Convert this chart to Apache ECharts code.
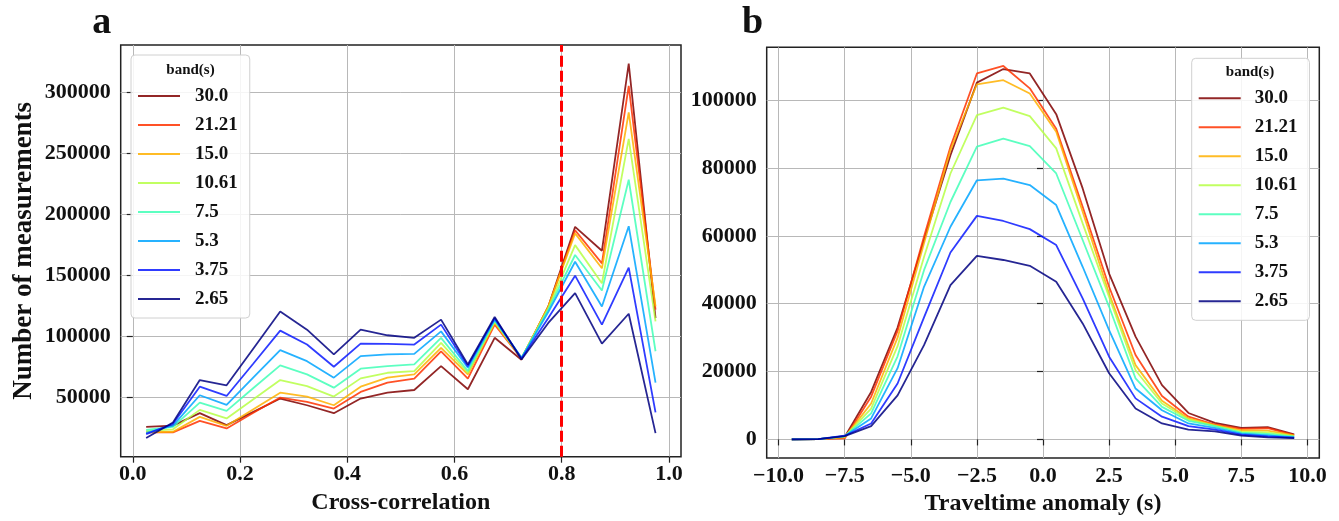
<!DOCTYPE html>
<html><head><meta charset="utf-8">
<script src="https://cdn.jsdelivr.net/npm/echarts@6/dist/echarts.min.js"></script>
<style>html,body{margin:0;padding:0;background:#fff}#c{width:1339px;height:521px}</style>
</head><body><div id="c"></div>
<script>
// ---------- DATA ----------
const bands = ['30.0', '21.21', '15.0', '10.61', '7.5', '5.3', '3.75', '2.65'];
const bandColors = ['#800000', '#ff3200', '#ffb000', '#b6ff45', '#41ffb6', '#00a4ff', '#0a1aff', '#000080'];

// panel a: cross-correlation bins
const ccBins = [0.025, 0.075, 0.125, 0.175, 0.225, 0.275, 0.325, 0.375, 0.425, 0.475,
                0.525, 0.575, 0.625, 0.675, 0.725, 0.775, 0.825, 0.875, 0.925, 0.975];
const cc_30_0  = [26000, 27000, 37200, 27400, 38300, 49200, 43700, 37200, 49200, 54100, 56200, 75700, 56800, 98900, 81000, 124600, 189700, 170200, 323300, 115100];
const cc_21_21 = [21500, 21500, 30900, 24700, 37500, 50000, 46400, 41000, 54600, 62200, 65500, 87900, 65500, 109700, 82000, 124000, 187000, 159900, 305100, 121900];
const cc_15_0  = [21500, 22000, 34200, 26900, 40500, 54000, 50800, 43700, 58900, 66300, 69000, 90700, 69000, 111100, 82000, 124600, 184400, 155800, 283400, 124600];
const cc_10_61 = [22500, 24000, 39900, 32900, 48600, 64300, 59400, 50800, 65700, 70300, 71700, 94800, 70300, 112000, 82500, 123000, 174800, 143600, 261700, 112400];
const cc_7_5   = [23500, 26000, 45900, 39100, 57800, 76300, 69000, 58100, 73600, 75700, 77100, 98900, 71700, 113000, 82500, 122000, 166700, 137600, 228300, 87900];
const cc_5_3   = [21000, 27000, 51900, 44000, 66500, 88800, 79800, 66300, 83900, 85300, 85800, 104200, 74400, 113800, 82500, 120000, 161200, 124600, 190300, 62200];
const cc_3_75  = [20000, 28500, 58900, 51300, 77900, 104800, 93400, 75200, 94200, 94000, 93400, 109700, 75700, 115000, 82000, 115100, 149800, 109700, 156300, 37800];
const cc_2_65  = [16900, 29600, 64300, 60000, 90100, 120500, 105600, 85300, 105600, 101000, 98900, 113800, 77100, 116000, 81200, 111100, 135500, 94200, 118600, 20900];
const ccThreshold = 0.8;

// panel b: traveltime anomaly bins
const ttBins = [-9.5, -8.5, -7.5, -6.5, -5.5, -4.5, -3.5, -2.5, -1.5, -0.5,
                0.5, 1.5, 2.5, 3.5, 4.5, 5.5, 6.5, 7.5, 8.5, 9.5];
const tt_30_0  = [0, 100, 700, 14000, 33000, 58800, 83800, 105200, 109200, 107900, 95900, 74000, 48900, 30300, 16000, 7800, 4900, 3400, 3600, 1500];
const tt_21_21 = [0, 100, 300, 12600, 32000, 59800, 86300, 107900, 110100, 103500, 91600, 68600, 45000, 24900, 12800, 6700, 4400, 3100, 3300, 1300];
const tt_15_0  = [0, 100, 600, 10600, 30000, 57800, 85300, 104700, 105900, 102000, 90700, 67100, 43000, 21900, 11400, 6200, 4200, 2700, 2600, 1200];
const tt_10_61 = [0, 100, 800, 9100, 27500, 53800, 78400, 95600, 97800, 95300, 85800, 63700, 42000, 20400, 10600, 5900, 4000, 2300, 2100, 1000];
const tt_7_5   = [0, 100, 900, 7700, 24500, 49900, 70000, 86300, 88700, 86500, 78400, 58800, 39100, 18000, 9600, 5500, 3900, 2000, 1600, 800];
const tt_5_3   = [0, 100, 1000, 6200, 21000, 45000, 62700, 76400, 76900, 75000, 69100, 50900, 32200, 15000, 8600, 4700, 3400, 1700, 1200, 600];
const tt_3_75  = [0, 100, 1100, 4700, 16500, 36000, 55100, 65900, 64400, 62000, 57300, 41600, 24400, 12100, 6700, 3900, 2900, 1400, 900, 500];
const tt_2_65  = [0, 100, 1000, 3900, 13000, 27800, 45500, 54100, 52900, 51200, 46500, 34200, 19500, 9100, 4700, 2900, 2400, 1100, 600, 400];

// tick labels
const ccTicks = [0.0, 0.2, 0.4, 0.6, 0.8, 1.0];
const ccCountTicks = [50000, 100000, 150000, 200000, 250000, 300000];
const ttTicks = [-10.0, -7.5, -5.0, -2.5, 0.0, 2.5, 5.0, 7.5, 10.0];
const ttCountTicks = [0, 20000, 40000, 60000, 80000, 100000];

// ---------- BUILD ----------
const ccSeries = [cc_30_0, cc_21_21, cc_15_0, cc_10_61, cc_7_5, cc_5_3, cc_3_75, cc_2_65];
const ttSeries = [tt_30_0, tt_21_21, tt_15_0, tt_10_61, tt_7_5, tt_5_3, tt_3_75, tt_2_65];

function padded(arrs) { // matplotlib-like 5% margins
  const all = [].concat(...arrs);
  const lo = Math.min(...all), hi = Math.max(...all), r = hi - lo;
  return [lo - 0.05 * r, hi + 0.05 * r];
}
const ccX = padded([ccBins]), ccY = padded(ccSeries);
const ttX = padded([ttBins]), ttY = padded(ttSeries);

const FONT = 'Liberation Serif';
const INK = '#111';
const fmtMinus = v => (v < 0 ? '\u2212' + Math.abs(v).toFixed(1) : v.toFixed(1));

function axisCommon(ticks, fmt, isX) {
  return {
    axisLine: { show: false },
    axisTick: { show: true, inside: false, length: 6, customValues: ticks, lineStyle: { color: '#222', width: 1.2 } },
    axisLabel: { customValues: ticks, formatter: fmt, color: INK, fontFamily: FONT, fontWeight: 'bold', fontSize: 22, margin: isX ? 7 : 10 },
    splitLine: { show: true, lineStyle: { color: '#b8b8b8', width: 1 } }
  };
}

const series = [];
bands.forEach((b, i) => {
  series.push({
    name: b, type: 'line', xAxisIndex: 0, yAxisIndex: 0, showSymbol: false, symbol: 'none',
    data: ccBins.map((x, j) => [x, ccSeries[i][j]]),
    lineStyle: { color: bandColors[i], width: 1.8, opacity: 0.85 },
    itemStyle: { color: bandColors[i], opacity: 0.85 },
    animation: false, z: 2
  });
});
// dashed threshold line on panel a
series[series.length - 1].markLine = {
  silent: true, symbol: 'none', animation: false,
  label: { show: false },
  lineStyle: { color: '#ff0000', type: [11, 4], width: 3, opacity: 1 },
  data: [{ xAxis: ccThreshold }]
};
bands.forEach((b, i) => {
  series.push({
    name: b, type: 'line', xAxisIndex: 1, yAxisIndex: 1, showSymbol: false, symbol: 'none',
    data: ttBins.map((x, j) => [x, ttSeries[i][j]]),
    lineStyle: { color: bandColors[i], width: 1.8, opacity: 0.85 },
    itemStyle: { color: bandColors[i], opacity: 0.85 },
    animation: false, z: 2
  });
});

function legend(left, top, pt, tpad) {
  return {
    data: bands, orient: 'vertical', left: left, top: top,
    icon: 'rect', itemWidth: 42, itemHeight: 2, itemGap: 9,
    padding: [pt, 12, 9, 7],
    backgroundColor: 'rgba(255,255,255,0.85)', borderColor: '#d0d0d0', borderWidth: 1, borderRadius: 4,
    selectedMode: false,
    textStyle: { color: INK, fontFamily: FONT, fontWeight: 'bold', fontSize: 19, lineHeight: 20, padding: [0, 0, 0, tpad] }
  };
}

const option = {
  backgroundColor: '#fff',
  animation: false,
  grid: [
    { left: 120.7, top: 45, width: 560.3, height: 411.7, show: true, borderColor: '#222', borderWidth: 1.5, backgroundColor: 'transparent' },
    { left: 766.7, top: 47.3, width: 552.6, height: 411, show: true, borderColor: '#222', borderWidth: 1.5, backgroundColor: 'transparent' }
  ],
  xAxis: [
    Object.assign({ type: 'value', gridIndex: 0, min: ccX[0], max: ccX[1],
      name: 'Cross-correlation', nameLocation: 'middle', nameGap: 29,
      nameTextStyle: { color: INK, fontFamily: FONT, fontWeight: 'bold', fontSize: 24 } },
      axisCommon(ccTicks, v => v.toFixed(1), true)),
    Object.assign({ type: 'value', gridIndex: 1, min: ttX[0], max: ttX[1],
      name: 'Traveltime anomaly (s)', nameLocation: 'middle', nameGap: 28,
      nameTextStyle: { color: INK, fontFamily: FONT, fontWeight: 'bold', fontSize: 24 } },
      axisCommon(ttTicks, fmtMinus, true))
  ],
  yAxis: [
    Object.assign({ type: 'value', gridIndex: 0, min: ccY[0], max: ccY[1],
      name: 'Number of measurements', nameLocation: 'middle', nameGap: 83,
      nameTextStyle: { color: INK, fontFamily: FONT, fontWeight: 'bold', fontSize: 27 } },
      axisCommon(ccCountTicks, v => String(v), false)),
    Object.assign({ type: 'value', gridIndex: 1, min: ttY[0], max: ttY[1] },
      axisCommon(ttCountTicks, v => String(v), false))
  ],
  legend: [legend(131, 55, 31, 10), legend(1191.7, 58.3, 30, 9)],
  graphic: [
    { type: 'text', z: 100, style: { text: 'a', x: 101.7, y: 42, align: 'center', verticalAlign: 'bottom', fill: INK, font: 'bold 38px "Liberation Serif"' } },
    { type: 'text', z: 100, style: { text: 'b', x: 752.5, y: 42, align: 'center', verticalAlign: 'bottom', fill: INK, font: 'bold 38px "Liberation Serif"' } },
    { type: 'text', z: 100, style: { text: 'band(s)', x: 190.5, y: 70, align: 'center', verticalAlign: 'middle', fill: INK, font: 'bold 15px "Liberation Serif"' } },
    { type: 'text', z: 100, style: { text: 'band(s)', x: 1250, y: 72, align: 'center', verticalAlign: 'middle', fill: INK, font: 'bold 15px "Liberation Serif"' } }
  ],
  series: series
};
const chart = echarts.init(document.getElementById('c'), null, { renderer: 'canvas' });
chart.setOption(option);
</script>
</body></html>
